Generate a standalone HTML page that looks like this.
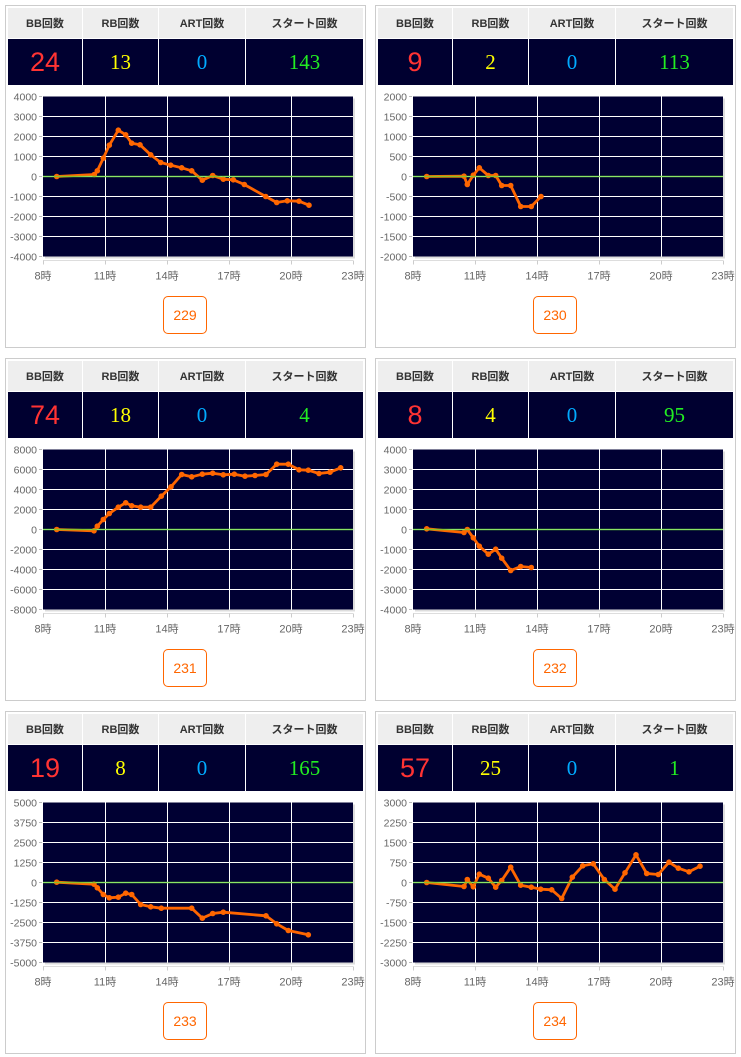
<!DOCTYPE html>
<html><head><meta charset="utf-8"><style>
body{margin:0;width:741px;height:1057px;background:#fff;position:relative;overflow:hidden;font-family:"Liberation Sans","Noto Sans CJK JP",sans-serif}
.panel{position:absolute;width:359px;height:341px;border:1px solid #ccc;box-sizing:content-box}
table{position:absolute;left:1px;top:1px;border-collapse:collapse;width:357px;table-layout:fixed}
th{height:30px;background:#eee;font-size:11px;font-weight:bold;color:#333;border:1px solid #fff;padding:0}
td{height:46px;background:#000030;border:1px solid #fff;text-align:center;padding:0;font-family:"Liberation Serif",serif;font-size:21px}
td.bb{font-family:"Liberation Sans",sans-serif;font-size:27px;color:#ff3333}
.btn{position:absolute;left:157px;top:290px;width:42px;height:36px;border:1px solid #ff6600;border-radius:5px;color:#ff6600;font-size:14px;text-align:center;line-height:36px}
svg{position:absolute;left:0;top:0}
</style></head><body>
<div id="root"></div>
<svg id="s" width="741" height="1057" xmlns="http://www.w3.org/2000/svg"></svg>
<script>
var P=[
{ox:0,oy:0,v:[24,13,0,143],id:229,max:4000,z0:527,pts:[[170,527],[283,521],[292,510],[310,472],[328,433],[355,388],[377,402],[395,427],[420,432],[452,462],[482,485],[512,493],[545,501],[575,510],[607,538],[638,524],[670,535],[700,537],[733,551],[797,587],[830,605],[862,600],[897,601],[927,613]]},
{ox:370,oy:0,v:[9,2,0,113],id:230,max:2000,z0:258,pts:[[170,258],[282,257],[292,282],[310,254],[328,232],[355,255],[377,255],[395,285],[422,285],[452,348],[484,348],[513,318]]},
{ox:0,oy:353,v:[74,18,0,4],id:231,max:8000,z0:258,pts:[[170,258],[282,262],[292,248],[310,228],[328,210],[355,191],[377,178],[395,187],[422,191],[452,191],[484,158],[513,130],[545,93],[575,100],[607,92],[638,89],[670,94],[703,92],[735,98],[765,96],[798,93],[830,62],[865,62],[897,79],[925,80],[957,90],[990,86],[1022,73]]},
{ox:370,oy:353,v:[8,4,0,95],id:232,max:4000,z0:258,pts:[[170,256],[282,267],[292,258],[310,283],[328,308],[355,332],[377,317],[395,344],[422,381],[452,369],[484,372]]},
{ox:0,oy:706,v:[19,8,0,165],id:233,max:5000,z0:261,pts:[[170,260],[282,266],[292,277],[310,297],[328,307],[355,305],[377,293],[395,297],[422,327],[452,334],[484,338],[575,338],[607,368],[638,354],[670,350],[798,361],[830,385],[865,405],[925,418]]},
{ox:370,oy:706,v:[57,25,0,1],id:234,max:3000,z0:549,pts:[[170,549],[282,561],[292,540],[310,562],[328,524],[355,536],[377,563],[395,543],[422,503],[452,557],[484,563],[512,569],[545,571],[575,597],[607,533],[638,499],[670,493],[703,540],[735,569],[765,520],[798,466],[830,522],[865,525],[897,488],[925,506],[957,517],[990,500]]}
];
var root=document.getElementById('root'),s='',h='';
var cols=['#ff3333','#ffff00','#00aaff','#22ee22'];
P.forEach(function(p){
 h+='<div class="panel" style="left:'+(p.ox+5)+'px;top:'+(p.oy+5)+'px"><table><colgroup><col style="width:75px"><col style="width:76px"><col style="width:87px"><col></colgroup><tr><th>BB回数</th><th>RB回数</th><th>ART回数</th><th>スタート回数</th></tr><tr>';
 p.v.forEach(function(v,i){h+='<td class="'+(i==0?'bb':'')+'" style="color:'+cols[i]+'">'+v+'</td>';});
 h+='</tr></table><div class="btn">'+p.id+'</div></div>';
 var L=p.ox+43,T=p.oy+96.5,W=310,H=160;
 s+='<rect x="'+(L+2)+'" y="'+(T+2)+'" width="'+W+'" height="'+H+'" fill="#ddd"/>';
 s+='<rect x="'+L+'" y="'+T+'" width="'+W+'" height="'+H+'" fill="#000033"/>';
 for(var i=1;i<8;i++){s+='<line x1="'+L+'" x2="'+(L+W)+'" y1="'+(T+i*20)+'" y2="'+(T+i*20)+'" stroke="#fff" stroke-width="1"/>';}
 for(var j=1;j<5;j++){var x=L+j*62+0.5;s+='<line x1="'+x+'" x2="'+x+'" y1="'+T+'" y2="'+(T+H)+'" stroke="#fff" stroke-width="1"/>';}
 for(var i=0;i<=8;i++){var y=T+i*20,val=p.max-i*p.max/4;
  s+='<text x="'+(L-6)+'" y="'+(y+4)+'" font-size="10.5" fill="#666" text-anchor="end" font-family="Liberation Sans,sans-serif">'+val+'</text>';
  s+='<line x1="'+(L-4)+'" x2="'+(L-1)+'" y1="'+y+'" y2="'+y+'" stroke="#bbb"/>';}
 s+='<line x1="'+L+'" x2="'+(L+W)+'" y1="'+(T+H+4)+'" y2="'+(T+H+4)+'" stroke="#ddd"/>';
 for(var j=0;j<=5;j++){var x=L+j*62;
  s+='<line x1="'+(x+0.5)+'" x2="'+(x+0.5)+'" y1="'+(T+H+4)+'" y2="'+(T+H+8)+'" stroke="#ccc"/>';
  s+='<text x="'+x+'" y="'+(T+H+23)+'" font-size="11" fill="#666" text-anchor="middle" font-family="Liberation Sans,Noto Sans CJK JP,sans-serif">'+(8+3*j)+'時</text>';}
 var pts=p.pts.map(function(q){return [p.ox+q[0]/3,p.oy+176.5+(q[1]-p.z0)/3];});
 s+='<polyline points="'+pts.map(function(q){return q[0].toFixed(1)+','+q[1].toFixed(1)}).join(' ')+'" fill="none" stroke="#ff6600" stroke-width="2.8" stroke-linejoin="round"/>';
 pts.forEach(function(q){s+='<circle cx="'+q[0].toFixed(1)+'" cy="'+q[1].toFixed(1)+'" r="2.8" fill="#ff6600"/>';});
 s+='<line x1="'+L+'" x2="'+(L+W)+'" y1="'+(T+80)+'" y2="'+(T+80)+'" stroke="#66dd33" stroke-width="1.5" opacity="0.75"/>';
});
root.innerHTML=h;document.getElementById('s').innerHTML=s;
</script>
</body></html>
